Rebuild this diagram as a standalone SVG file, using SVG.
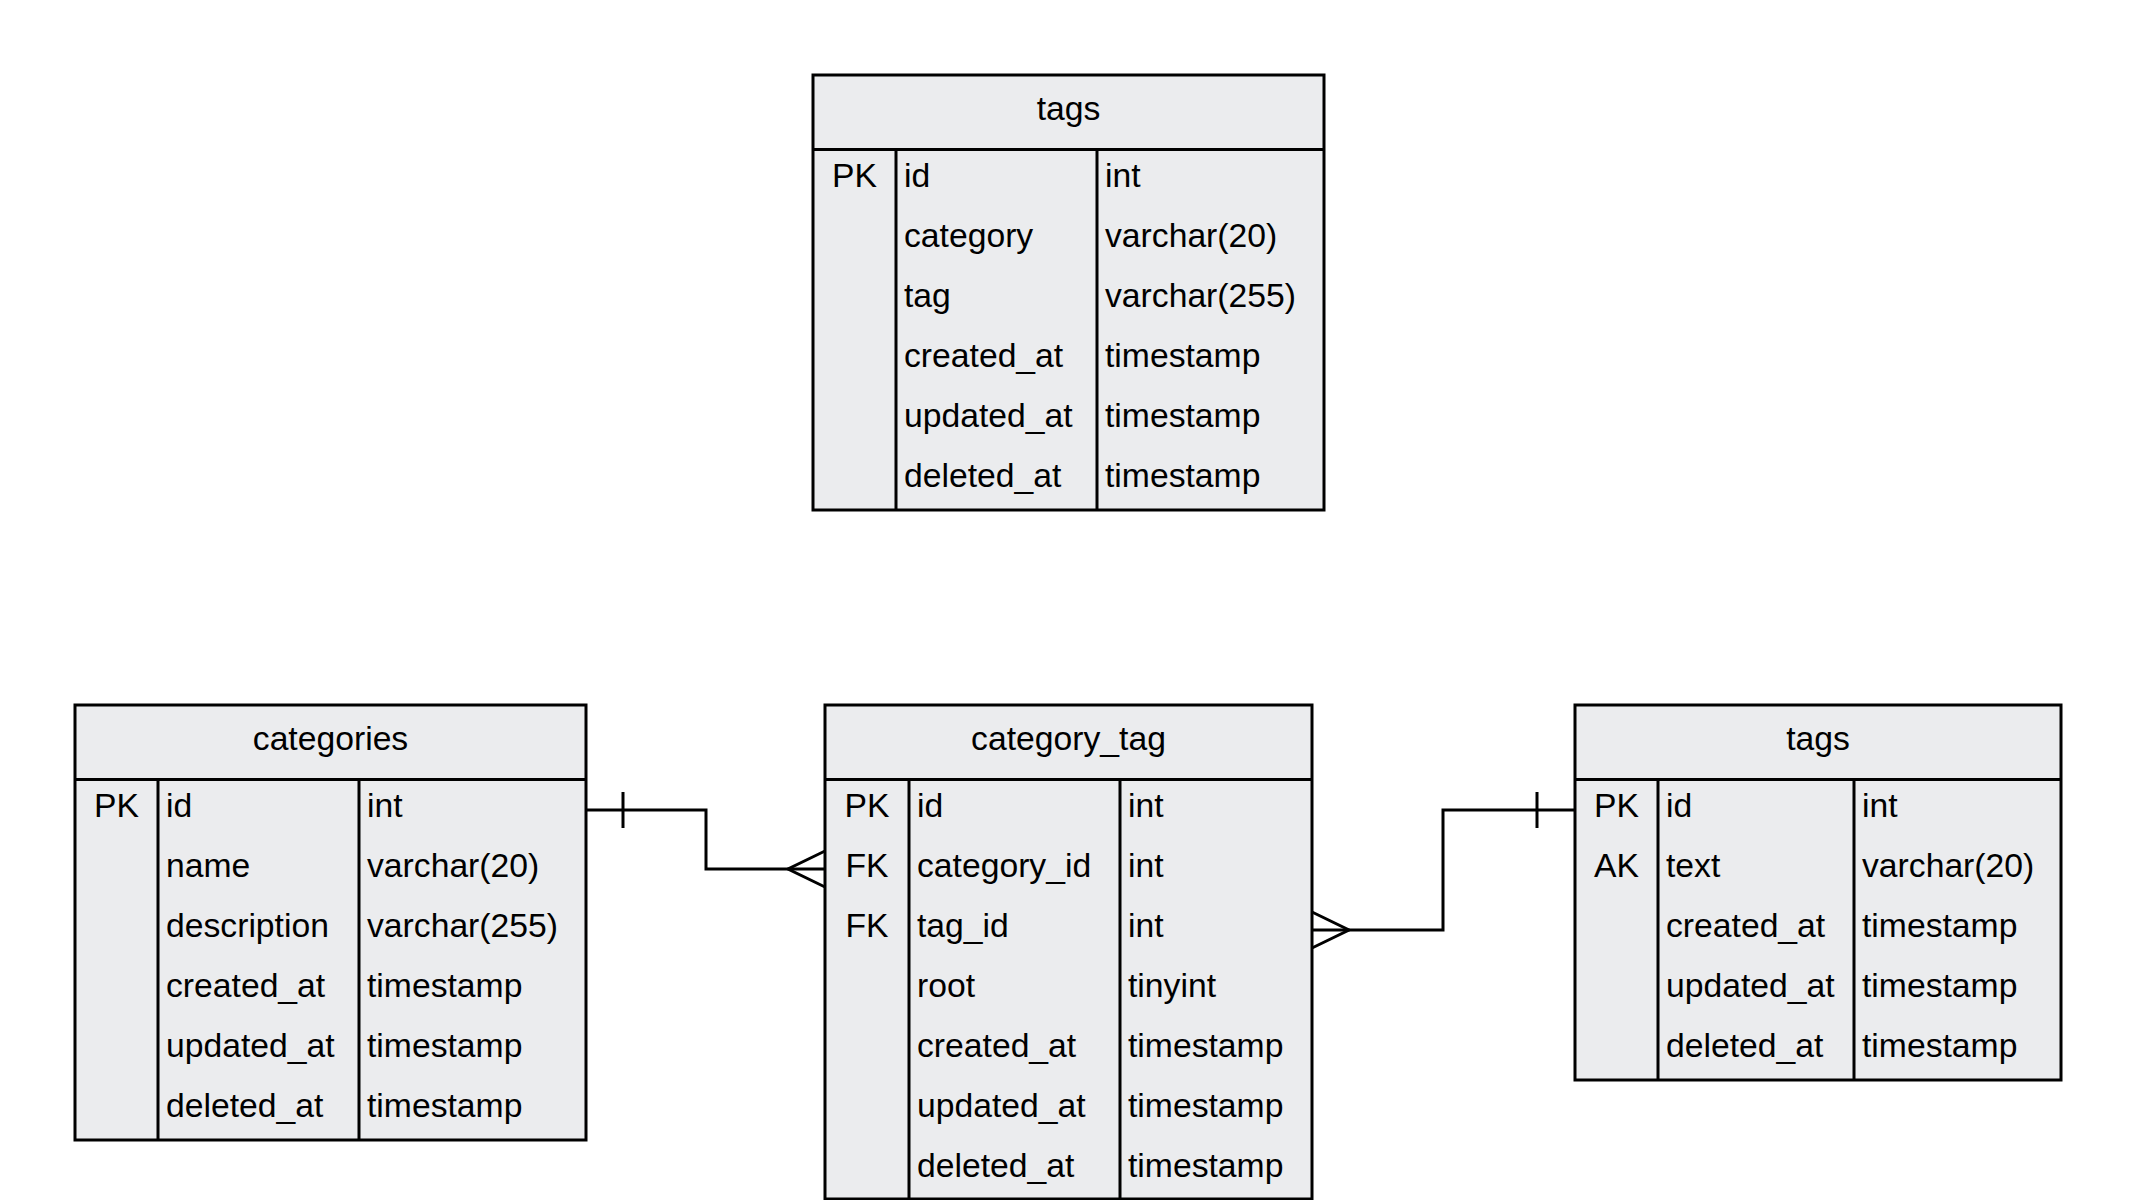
<svg xmlns="http://www.w3.org/2000/svg" width="2138" height="1200" viewBox="0 0 2138 1200">
<style>
.box{fill:#EBECEE;stroke:#000;stroke-width:3}
.ln{stroke:#000;stroke-width:3;fill:none}
text{font-family:"Liberation Sans",Arial,sans-serif;font-size:33.7px;fill:#000}
.c{text-anchor:middle}
</style>
<rect width="2138" height="1200" fill="#fff"/>
<g id="tags-top">
<rect class="box" x="813" y="75" width="511" height="435"/>
<line class="ln" x1="813" y1="149.5" x2="1324" y2="149.5"/>
<line class="ln" x1="896" y1="149.5" x2="896" y2="510"/>
<line class="ln" x1="1097" y1="149.5" x2="1097" y2="510"/>
<text class="c" x="1068.5" y="120">tags</text>
<text class="c" x="854.5" y="187">PK</text>
<text x="904" y="187">id</text><text x="1105" y="187">int</text>
<text x="904" y="247">category</text><text x="1105" y="247">varchar(20)</text>
<text x="904" y="307">tag</text><text x="1105" y="307">varchar(255)</text>
<text x="904" y="367">created_at</text><text x="1105" y="367">timestamp</text>
<text x="904" y="427">updated_at</text><text x="1105" y="427">timestamp</text>
<text x="904" y="487">deleted_at</text><text x="1105" y="487">timestamp</text>
</g>
<g id="categories">
<rect class="box" x="75" y="705" width="511" height="435"/>
<line class="ln" x1="75" y1="779.5" x2="586" y2="779.5"/>
<line class="ln" x1="158" y1="779.5" x2="158" y2="1140"/>
<line class="ln" x1="359" y1="779.5" x2="359" y2="1140"/>
<text class="c" x="330.5" y="750">categories</text>
<text class="c" x="116.5" y="817">PK</text>
<text x="166" y="817">id</text><text x="367" y="817">int</text>
<text x="166" y="877">name</text><text x="367" y="877">varchar(20)</text>
<text x="166" y="937">description</text><text x="367" y="937">varchar(255)</text>
<text x="166" y="997">created_at</text><text x="367" y="997">timestamp</text>
<text x="166" y="1057">updated_at</text><text x="367" y="1057">timestamp</text>
<text x="166" y="1117">deleted_at</text><text x="367" y="1117">timestamp</text>
</g>
<g id="category_tag">
<rect class="box" x="825" y="705" width="487" height="494"/>
<line class="ln" x1="825" y1="779.5" x2="1312" y2="779.5"/>
<line class="ln" x1="909" y1="779.5" x2="909" y2="1199"/>
<line class="ln" x1="1120" y1="779.5" x2="1120" y2="1199"/>
<text class="c" x="1068.5" y="750">category_tag</text>
<text class="c" x="867" y="817">PK</text>
<text class="c" x="867" y="877">FK</text>
<text class="c" x="867" y="937">FK</text>
<text x="917" y="817">id</text><text x="1128" y="817">int</text>
<text x="917" y="877">category_id</text><text x="1128" y="877">int</text>
<text x="917" y="937">tag_id</text><text x="1128" y="937">int</text>
<text x="917" y="997">root</text><text x="1128" y="997">tinyint</text>
<text x="917" y="1057">created_at</text><text x="1128" y="1057">timestamp</text>
<text x="917" y="1117">updated_at</text><text x="1128" y="1117">timestamp</text>
<text x="917" y="1177">deleted_at</text><text x="1128" y="1177">timestamp</text>
</g>
<g id="tags">
<rect class="box" x="1575" y="705" width="486" height="375"/>
<line class="ln" x1="1575" y1="779.5" x2="2061" y2="779.5"/>
<line class="ln" x1="1658" y1="779.5" x2="1658" y2="1080"/>
<line class="ln" x1="1854" y1="779.5" x2="1854" y2="1080"/>
<text class="c" x="1818" y="750">tags</text>
<text class="c" x="1616.5" y="817">PK</text>
<text class="c" x="1616.5" y="877">AK</text>
<text x="1666" y="817">id</text><text x="1862" y="817">int</text>
<text x="1666" y="877">text</text><text x="1862" y="877">varchar(20)</text>
<text x="1666" y="937">created_at</text><text x="1862" y="937">timestamp</text>
<text x="1666" y="997">updated_at</text><text x="1862" y="997">timestamp</text>
<text x="1666" y="1057">deleted_at</text><text x="1862" y="1057">timestamp</text>
</g>
<g id="connectors">
<polyline class="ln" points="586,810 706,810 706,869 825,869"/>
<line class="ln" x1="623" y1="792" x2="623" y2="828"/>
<polyline class="ln" points="825,851 788,869 825,887"/>
<polyline class="ln" points="1575,810 1443,810 1443,930 1312,930"/>
<line class="ln" x1="1537" y1="792" x2="1537" y2="828"/>
<polyline class="ln" points="1312,912 1349,930 1312,948"/>
</g>
</svg>
